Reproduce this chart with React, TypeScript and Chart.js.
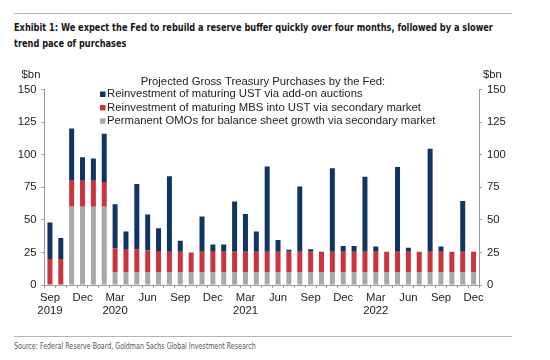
import React, { useEffect, useRef } from "react";
import { Chart, registerables } from "chart.js";

Chart.register(...registerables);

const categories = [
  "Sep 2019", "Oct 2019", "Nov 2019", "Dec 2019",
  "Jan 2020", "Feb 2020", "Mar 2020", "Apr 2020", "May 2020", "Jun 2020",
  "Jul 2020", "Aug 2020", "Sep 2020", "Oct 2020", "Nov 2020", "Dec 2020",
  "Jan 2021", "Feb 2021", "Mar 2021", "Apr 2021", "May 2021", "Jun 2021",
  "Jul 2021", "Aug 2021", "Sep 2021", "Oct 2021", "Nov 2021", "Dec 2021",
  "Jan 2022", "Feb 2022", "Mar 2022", "Apr 2022", "May 2022", "Jun 2022",
  "Jul 2022", "Aug 2022", "Sep 2022", "Oct 2022", "Nov 2022", "Dec 2022",
];

// Permanent OMOs (bottom, gray)
const omoValues = [
  0, 0, 60, 60, 60, 60, 10, 10, 10, 10,
  10, 10, 10, 10, 10, 10, 10, 10, 10, 10,
  10, 10, 10, 10, 10, 10, 10, 10, 10, 10,
  10, 10, 10, 10, 10, 10, 10, 10, 10, 10,
];

// Reinvestment of maturing MBS into UST (middle, red)
const mbsValues = [
  20, 20, 20, 20, 20, 19, 18, 17, 17.5, 16.5,
  16, 15.5, 15.5, 15, 15.5, 15.5, 15.5, 15.5, 15.5, 15.5,
  15.5, 15.5, 15.5, 15.5, 15.5, 15.5, 15.5, 15.5, 15.5, 15.5,
  15.5, 15.5, 15.5, 15.5, 15.5, 15.5, 15.5, 15.5, 15.5, 15.5,
];

// Reinvestment of maturing UST via add-on auctions (top, navy)
const ustValues = [
  28, 16, 40, 18, 17, 37, 34, 14, 50, 27.5,
  17.5, 58, 8.5, 0, 27, 5.5, 5.5, 38.5, 29, 15.5,
  65.5, 9, 1.5, 50, 2, 0, 64, 4.5, 4.5, 57.5,
  4, 0, 65, 3, 0, 79, 4, 0, 39, 0,
];

const yTicks = [0, 25, 50, 75, 100, 125, 150];

const seriesLabels = [
  "Permanent OMOs for balance sheet growth via secondary market",
  "Reinvestment of maturing MBS into UST via secondary market",
  "Reinvestment of maturing UST via add-on auctions",
];
const legendTitle = "Projected Gross Treasury Purchases by the Fed:";
const unitLabel = "$bn";

const FONT_FAMILY = '"Liberation Sans", Arial, sans-serif';
const FONT_SIZE = 11.3;
const NAVY = "#113460";
const RED = "#c9343f";
const GRAY = "#a8a8a8";
const AXIS = "#9a9a9a";

const overlayPlugin = {
  id: "overlay",
  afterDraw(chart: any) {
    const { ctx, chartArea } = chart;
    ctx.save();
    ctx.font = `${FONT_SIZE}px ${FONT_FAMILY}`;
    ctx.fillStyle = "#222";
    ctx.textBaseline = "middle";
    // unit labels
    ctx.textAlign = "center";
    ctx.fillText(unitLabel, chartArea.left - 13.5, chartArea.top - 14.5);
    ctx.textAlign = "left";
    ctx.fillText(unitLabel, chartArea.right + 4, chartArea.top - 14.5);
    // legend title
    ctx.textAlign = "center";
    ctx.fillText(legendTitle, 263, chartArea.top - 8);
    // legend items (top of stack first)
    const ds = chart.data.datasets.slice().reverse();
    ds.forEach((d: any, i: number) => {
      const y = chartArea.top + 4.5 + i * 13.4;
      ctx.fillStyle = d.backgroundColor;
      ctx.fillRect(100, y - 2.5, 5.5, 5.5);
      ctx.fillStyle = "#222";
      ctx.textAlign = "left";
      ctx.fillText(d.label, 107, y);
    });
    ctx.restore();
  },
};

export default function App() {
  const canvasRef = useRef<HTMLCanvasElement | null>(null);

  useEffect(() => {
    if (!canvasRef.current) return;
    const font = { family: FONT_FAMILY, size: FONT_SIZE, lineHeight: 1.1 };
    const yScale = (position: "left" | "right", width: number) => ({
      type: "linear" as const,
      position,
      stacked: true,
      min: 0,
      max: 150,
      afterBuildTicks: (scale: any) => {
        scale.ticks = yTicks.map((v) => ({ value: v }));
      },
      afterFit: (scale: any) => {
        scale.width = width;
      },
      grid: {
        display: true,
        drawOnChartArea: false,
        drawTicks: true,
        tickLength: 3,
        color: AXIS,
      },
      border: { display: true, color: AXIS, width: 1 },
      ticks: { color: "#222", font, padding: 5 },
    });

    const chart = new Chart(canvasRef.current, {
      type: "bar",
      data: {
        labels: categories,
        datasets: [
          { label: seriesLabels[0], data: omoValues, backgroundColor: GRAY },
          { label: seriesLabels[1], data: mbsValues, backgroundColor: RED },
          { label: seriesLabels[2], data: ustValues, backgroundColor: NAVY },
        ],
      },
      options: {
        animation: false,
        responsive: false,
        devicePixelRatio: 1,
        layout: { padding: { top: 39.5, left: 0, right: 0, bottom: 0 } },
        datasets: {
          bar: { barPercentage: 1, categoryPercentage: 0.46 },
        },
        plugins: {
          legend: { display: false },
          tooltip: { enabled: false },
          title: { display: false },
        },
        scales: {
          x: {
            stacked: true,
            afterFit: (scale: any) => {
              scale.height = 45;
            },
            grid: {
              display: true,
              drawOnChartArea: false,
              drawTicks: true,
              tickLength: 3,
              color: AXIS,
              offset: true,
            },
            border: { display: true, color: AXIS, width: 1 },
            ticks: {
              autoSkip: false,
              maxRotation: 0,
              minRotation: 0,
              padding: 4,
              color: "#222",
              font,
              callback: (_v: any, index: number) => {
                if (index % 3 !== 0) return "";
                const [m, y] = categories[index].split(" ");
                return index === 0 || m === "Mar" ? [m, y] : m;
              },
            },
          },
          y: yScale("left", 44.5),
          y2: yScale("right", 71),
        },
      } as any,
      plugins: [overlayPlugin],
    });
    return () => chart.destroy();
  }, []);

  const narrow = '"Liberation Sans Narrow", "DejaVu Sans Condensed", "Arial Narrow", sans-serif';

  return (
    <div style={{ position: "absolute", left: 0, top: 0, width: 550, height: 360, background: "#fff", overflow: "hidden" }}>
      <div style={{ position: "absolute", left: 14, top: 13, width: 498, height: 1, background: "#b5b5b5" }} />
      <div
        style={{
          position: "absolute",
          left: 14,
          top: 20,
          fontFamily: narrow,
          fontWeight: "bold",
          fontSize: 10.5,
          lineHeight: "15.5px",
          color: "#151515",
          whiteSpace: "nowrap",
          transform: "scaleX(0.87)",
          transformOrigin: "0 0",
        }}
      >
        Exhibit 1: We expect the Fed to rebuild a reserve buffer quickly over four months, followed by a slower
        <br />
        trend pace of purchases
      </div>
      <canvas ref={canvasRef} width={550} height={280} style={{ position: "absolute", left: 0, top: 50, width: 550, height: 280 }} />
      <div style={{ position: "absolute", left: 14, top: 336, width: 498, height: 1, background: "#b5b5b5" }} />
      <div
        style={{
          position: "absolute",
          left: 14,
          top: 342,
          fontFamily: narrow,
          fontSize: 8,
          lineHeight: "10px",
          color: "#555",
          whiteSpace: "nowrap",
          transform: "scaleX(0.88)",
          transformOrigin: "0 0",
        }}
      >
        Source: Federal Reserve Board, Goldman Sachs Global Investment Research
      </div>
    </div>
  );
}
